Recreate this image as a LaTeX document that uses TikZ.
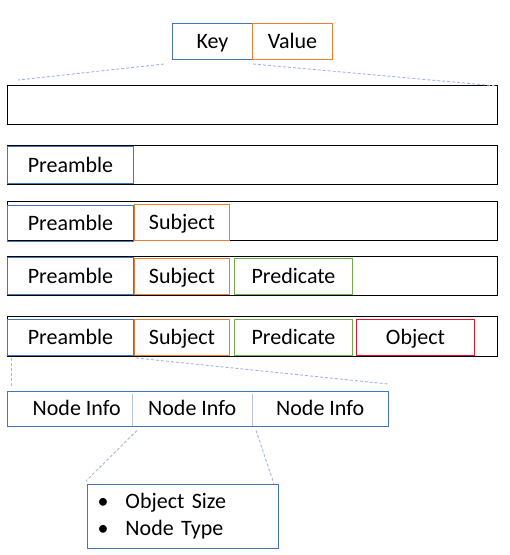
\documentclass[tikz,border=0pt]{standalone}
\usepackage{fontspec}
\setmainfont{Carlito}
\definecolor{kblue}{HTML}{4472C4}
\definecolor{korange}{HTML}{ED7D31}
\definecolor{kgreen}{HTML}{70AD47}
\definecolor{kred}{HTML}{E8112D}
\definecolor{linkc}{HTML}{A4B4E0}
\definecolor{divc}{HTML}{B4C4EC}
\begin{document}
\begin{tikzpicture}[x=1pt,y=-1pt,
  fnt/.style={font=\fontsize{22}{27}\selectfont},
  txt/.style={fnt, text height=18pt, text depth=4pt},
  bx/.style={draw, line width=1pt, inner sep=0pt, txt, anchor=north west},
  outer/.style={draw=black, line width=1.3pt, inner sep=0pt, anchor=north west, minimum width=490pt, minimum height=39pt},
  cell/.style={inner sep=0pt, txt, anchor=north west, minimum height=35pt},
  link/.style={draw=linkc, dash pattern=on 3pt off 2pt, line width=0.9pt}]
\useasboundingbox (0,0) rectangle (510,555);
% Key / Value
\node[bx, draw=kblue, minimum width=80pt, minimum height=36pt] (key) at (172,23) {Key};
\node[bx, draw=korange, minimum width=80pt, minimum height=36pt] (val) at (252,23) {Value};
% outer rows
\node[outer] (r1) at (7,85) {};
\node[outer] (r2) at (7,145) {};
\node[outer] (r3) at (7,201) {};
\node[outer] (r4) at (7,256) {};
\node[outer, minimum height=40pt] (r5) at (7,316) {};
% row 2
\node[bx, draw=kblue, minimum width=126pt, minimum height=37pt] (p2) at (7,146) {Preamble};
% row 3
\node[bx, draw=kblue, minimum width=126pt, minimum height=36pt] (p3) at (7,205) {Preamble};
\node[bx, draw=korange, minimum width=95pt, minimum height=36pt] (s3) at (134,204) {Subject};
% row 4
\node[bx, draw=kblue, minimum width=126pt, minimum height=37pt] (p4) at (7,257) {Preamble};
\node[bx, draw=korange, minimum width=95pt, minimum height=36pt] (s4) at (134,258) {Subject};
\node[bx, draw=kgreen, minimum width=118pt, minimum height=36pt] (q4) at (234,258) {Predicate};
% row 5
\node[bx, draw=kblue, minimum width=126pt, minimum height=36pt] (p5) at (7,319) {Preamble};
\node[bx, draw=korange, minimum width=95pt, minimum height=36pt] (s5) at (134,319) {Subject};
\node[bx, draw=kgreen, minimum width=118pt, minimum height=36pt] (q5) at (234,319) {Predicate};
\node[bx, draw=kred, minimum width=118pt, minimum height=36pt] (o5) at (356,319) {Object};
% node info
\node[cell, minimum width=125pt] (ni1) at (7,391) {\hspace*{14pt}Node Info};
\node[cell, minimum width=120pt] (ni2) at (132,391) {Node Info};
\node[cell, minimum width=136pt] (ni3) at (252,391) {Node Info};
\draw[divc, line width=1pt] ([yshift=-3pt]ni2.north west) -- (ni2.south west);
\draw[divc, line width=1pt] ([yshift=-3pt]ni3.north west) -- (ni3.south west);
\draw[kblue, line width=1pt] (ni1.north west) rectangle (ni3.south east);
% bullet box
\node[draw=kblue, line width=1pt, fnt, anchor=north west, minimum width=191pt, minimum height=64pt,
      text width=171pt, inner xsep=10pt, inner ysep=0pt, align=left] (bl) at (87,484)
  {\begin{tabular}{@{}p{28pt}@{}l@{}}\textbullet & Object Size\\ \textbullet & Node Type\end{tabular}};
% zoom links
\draw[link] ([shift={(-8,4)}]key.south west) -- ([shift={(11,-5)}]r1.north west);
\draw[link] ([shift={(0,4)}]key.south east) -- ([shift={(-1,1)}]r1.north east);
\draw[link] ([shift={(4,2)}]p5.south west) -- ([shift={(4,-3)}]ni1.north west);
\draw[link] ([shift={(2,2)}]s5.south west) -- ([shift={(0,-7)}]ni3.north east);
\draw[link] ([shift={(5,4)}]ni2.south west) -- ([shift={(-1,-3)}]bl.north west);
\draw[link] ([shift={(4,4)}]ni3.south west) -- ([shift={(-5,0)}]bl.north east);
\end{tikzpicture}
\end{document}
